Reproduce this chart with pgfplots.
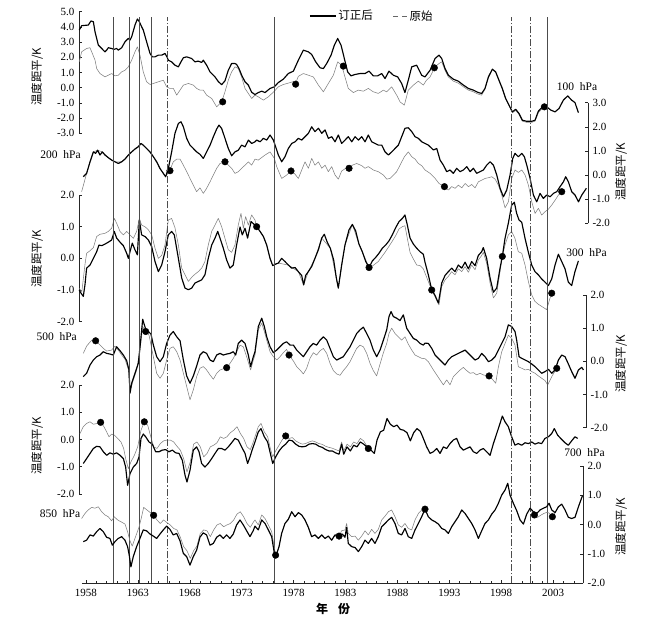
\documentclass[border=0pt]{standalone}
\usepackage{fontspec}
\setmainfont{Liberation Serif}
\newfontfamily\cjk{Noto Sans CJK SC}
\usepackage{pgfplots}
\pgfplotsset{compat=1.18}
\pgfplotsset{
  panel/.style={scale only axis, clip=false, xmin=1957.326, xmax=2006,
    anchor=south west, tick align=inside, major tick length=3pt,
    axis line style={black!85, line width=0.5pt},
    every tick/.style={black!85, line width=0.5pt},
    tick label style={font=\fontsize{11}{13}\selectfont},
    yticklabel style={/pgf/number format/.cd, fixed, fixed zerofill, precision=1, assume math mode=true},
    yticklabel shift=1pt},
  corr/.style={black, line width=1.15pt, line join=round, forget plot},
  orig/.style={black!50, line width=0.55pt, line join=round, forget plot},
  dots/.style={only marks, mark=*, mark size=3.3pt, black, forget plot},
  vsolid/.style={black!70, line width=0.6pt, forget plot},
  vdash/.style={black!70, line width=0.6pt, dash pattern=on 7pt off 2pt on 1.5pt off 2pt, forget plot},
}
\begin{document}
\begin{tikzpicture}
\path (0pt,0pt) rectangle (668pt,631pt);

% ---------------- 100 hPa ----------------
\begin{axis}[panel, hide x axis, at={(79pt,497.7pt)}, width=505.2pt, height=121.6pt,
  ymin=-3, ymax=5, ytick={-3,...,5}, axis y line*=left,
  legend columns=2,
  legend style={draw=none, fill=none, at={(0.58,0.965)}, anchor=center,
    font=\fontsize{11.5}{13}\selectfont,
    /tikz/every even column/.append style={column sep=18pt}}]
\addplot[orig] coordinates {(1957.35,1.70) (1957.58,2.36) (1958.06,2.58) (1958.38,2.63) (1958.55,2.36) (1958.87,1.81) (1959.03,1.26) (1959.35,0.93) (1959.83,0.71) (1960.15,0.82) (1960.47,0.93) (1960.79,0.78) (1961.11,0.82) (1961.44,1.04) (1961.76,1.15) (1962.08,1.37) (1962.40,1.81) (1962.72,2.36) (1962.95,2.69) (1963.20,2.14) (1963.52,1.04) (1963.84,0.39) (1964.17,0.21) (1964.49,0.28) (1964.97,0.39) (1965.45,0.49) (1965.77,0.06) (1966.09,-0.05) (1966.41,-0.05) (1966.74,-0.49) (1967.06,-0.16) (1967.38,0.17) (1967.86,0.28) (1968.34,0.17) (1968.66,-0.05) (1968.98,-0.16) (1969.30,-0.16) (1969.62,-0.49) (1970.11,-0.71) (1970.59,-1.26) (1971.07,-0.93) (1971.39,-0.27) (1971.71,0.49) (1972.03,1.04) (1972.35,1.37) (1972.67,1.26) (1972.99,0.71) (1973.32,-0.05) (1973.64,-0.38) (1973.96,-0.71) (1974.28,-0.49) (1974.60,-0.60) (1975.09,-0.82) (1975.57,-0.60) (1976.15,-0.23) (1976.53,0.06) (1977.01,0.21) (1977.49,0.30) (1977.98,0.40) (1978.20,0.30) (1978.46,0.75) (1978.94,0.93) (1979.42,0.82) (1979.90,0.71) (1980.39,0.17) (1980.87,-0.27) (1981.35,0.28) (1981.83,0.82) (1982.25,1.70) (1982.63,1.48) (1982.95,0.71) (1983.27,-0.05) (1983.76,-0.32) (1984.24,-0.16) (1984.72,-0.23) (1985.20,-0.05) (1985.68,-0.27) (1986.16,-0.38) (1986.65,-0.16) (1986.97,-0.27) (1987.45,0.06) (1987.93,-0.49) (1988.25,-0.93) (1988.67,-1.15) (1989.05,-0.16) (1989.54,0.17) (1990.02,0.43) (1990.50,0.17) (1990.80,0.49) (1991.15,0.71) (1991.63,1.37) (1992.01,1.59) (1992.27,1.70) (1992.59,1.15) (1992.91,0.71) (1993.39,0.43) (1993.87,0.30) (1994.36,0.06) (1994.84,-0.16) (1995.32,-0.27) (1995.80,-0.43) (1996.12,-0.49) (1996.44,-0.10) (1996.77,0.65) (1997.15,1.20) (1997.47,1.00) (1997.79,0.45) (1998.11,-0.10) (1998.43,-0.75) (1998.76,-1.20) (1999.08,-1.65) (1999.40,-1.50) (1999.72,-1.75) (2000.04,-2.20) (2000.46,-2.28) (2000.94,-2.28) (2001.26,-2.20) (2001.58,-1.65) (2001.97,-1.35) (2002.38,-1.26)};
\addplot[corr] coordinates {(1957.35,3.79) (1957.58,4.08) (1958.22,4.12) (1958.48,4.39) (1958.71,4.34) (1958.87,3.68) (1959.19,2.80) (1959.51,2.58) (1959.83,2.36) (1959.99,2.47) (1960.15,2.63) (1960.47,2.58) (1960.70,2.52) (1960.95,2.58) (1961.11,2.47) (1961.44,2.63) (1961.76,3.02) (1962.08,3.24) (1962.24,3.13) (1962.40,3.35) (1962.72,4.12) (1962.95,4.52) (1963.14,4.34) (1963.36,4.01) (1963.52,3.79) (1963.84,3.02) (1964.17,2.25) (1964.39,2.03) (1964.65,2.03) (1964.97,2.14) (1965.29,2.14) (1965.61,2.25) (1965.80,2.03) (1965.93,1.81) (1966.25,1.70) (1966.57,1.48) (1966.90,1.37) (1967.15,1.70) (1967.38,1.97) (1967.70,2.03) (1968.18,1.92) (1968.50,1.70) (1968.82,1.75) (1969.14,1.66) (1969.30,1.81) (1969.62,1.48) (1969.95,1.04) (1970.43,0.71) (1970.75,0.40) (1971.07,0.20) (1971.39,0.45) (1971.71,1.15) (1972.03,1.59) (1972.35,1.59) (1972.51,1.53) (1972.74,1.26) (1973.00,0.82) (1973.32,0.39) (1973.64,0.17) (1973.96,-0.30) (1974.28,-0.45) (1974.60,-0.32) (1974.93,-0.23) (1975.25,-0.32) (1975.73,-0.05) (1976.15,0.06) (1976.53,0.34) (1977.01,0.56) (1977.49,0.93) (1977.98,1.09) (1978.46,1.81) (1978.94,2.47) (1979.42,2.36) (1979.74,2.19) (1980.13,1.70) (1980.55,1.31) (1980.87,1.26) (1981.19,1.59) (1981.61,2.14) (1981.93,2.80) (1982.25,3.24) (1982.57,2.80) (1982.89,1.92) (1983.21,1.04) (1983.53,0.78) (1983.92,0.87) (1984.40,0.93) (1984.88,0.93) (1985.27,1.09) (1985.68,0.78) (1986.10,0.78) (1986.49,0.93) (1986.81,0.60) (1987.19,1.09) (1987.61,0.82) (1988.03,0.71) (1988.41,0.28) (1988.73,-0.32) (1989.05,0.49) (1989.38,1.37) (1989.86,1.48) (1990.34,0.82) (1990.66,0.71) (1991.15,1.15) (1991.63,1.92) (1992.01,2.14) (1992.27,1.92) (1992.59,1.26) (1992.91,0.82) (1993.39,0.56) (1993.87,0.43) (1994.36,0.17) (1994.84,-0.05) (1995.32,-0.16) (1995.80,-0.32) (1996.12,-0.38) (1996.44,-0.05) (1996.77,0.71) (1997.15,1.22) (1997.47,1.04) (1997.79,0.49) (1998.11,-0.05) (1998.43,-0.71) (1998.76,-1.15) (1999.08,-1.59) (1999.40,-1.42) (1999.72,-1.70) (2000.04,-2.14) (2000.46,-2.21) (2000.94,-2.21) (2001.26,-2.14) (2001.58,-1.55) (2001.97,-1.26) (2002.38,-1.26) (2002.80,-1.48) (2003.19,-1.59) (2003.57,-1.37) (2003.99,-0.82) (2004.41,-0.54) (2004.79,-0.82) (2005.11,-0.98) (2005.44,-1.64)};
\addplot[dots] coordinates {(1971.17,-0.93) (1978.20,0.23) (1982.79,1.42) (1991.56,1.31) (2002.16,-1.26)};
\addlegendimage{legend image code/.code={\draw[black, line width=1.15pt] (0pt,0pt) -- (26pt,0pt);}}
\addlegendentry{\cjk 订正后}
\addlegendimage{legend image code/.code={\draw[black!60, line width=0.7pt, dash pattern=on 5pt off 4pt] (0pt,0pt) -- (14pt,0pt);}}
\addlegendentry{\cjk 原始}
\end{axis}

% ---------------- 200 hPa ----------------
\begin{axis}[panel, hide x axis, at={(79pt,407.7pt)}, xmax=2006.36, width=509.0pt, height=120.6pt,
  ymin=-2, ymax=3, ytick={-2,...,3}, axis y line*=right]
\addplot[orig] coordinates {(1957.58,-0.69) (1957.84,-0.28) (1958.06,0.07) (1958.39,0.55) (1958.71,0.96) (1959.12,1.03) (1959.57,0.96) (1960.15,0.72) (1960.79,0.55) (1961.44,0.55) (1962.08,0.83) (1962.72,1.08) (1963.30,1.31) (1963.84,1.10) (1964.49,0.76) (1965.13,0.27) (1965.67,-0.07) (1966.09,0.21) (1966.41,0.55) (1966.74,0.66) (1967.06,0.66) (1967.38,0.41) (1967.70,0.14) (1968.02,-0.14) (1968.34,-0.42) (1968.66,-0.69) (1968.98,-0.53) (1969.30,-0.76) (1969.62,-0.55) (1969.95,-0.28) (1970.27,0.00) (1970.59,0.28) (1970.91,0.48) (1971.39,0.55) (1971.71,0.41) (1972.03,0.28) (1972.35,0.07) (1972.67,0.14) (1972.99,0.28) (1973.32,0.41) (1973.64,0.55) (1973.96,0.41) (1974.28,0.66) (1974.60,0.62) (1975.25,0.83) (1975.73,0.96) (1976.15,0.69) (1976.37,0.35) (1976.85,-0.14) (1977.33,0.00) (1977.75,0.17) (1978.07,0.07) (1978.46,-0.14) (1978.78,0.21) (1979.10,0.55) (1979.42,0.28) (1979.74,0.69) (1980.06,0.41) (1980.39,0.55) (1980.71,0.28) (1981.03,0.41) (1981.35,0.14) (1981.67,0.35) (1981.99,0.00) (1982.31,-0.17) (1982.63,0.17) (1983.02,0.28) (1983.34,0.28) (1983.66,0.41) (1984.08,0.48) (1984.56,0.39) (1984.88,0.28) (1985.20,0.35) (1985.68,0.21) (1986.16,0.14) (1986.65,0.00) (1986.97,-0.17) (1987.29,-0.14) (1987.61,0.00) (1987.93,0.14) (1988.25,0.41) (1988.67,0.76) (1989.05,0.96) (1989.38,0.76) (1989.70,0.66) (1990.02,0.48) (1990.34,0.39) (1990.66,0.21) (1991.15,0.07) (1991.63,-0.14) (1992.01,-0.35) (1992.53,-0.48) (1992.91,-0.62) (1993.23,-0.48) (1993.55,-0.55) (1993.87,-0.42) (1994.20,-0.53) (1994.52,-0.35) (1994.84,-0.48) (1995.16,-0.39) (1995.48,-0.53) (1995.80,-0.28) (1996.12,-0.21) (1996.44,-0.14) (1996.77,-0.11) (1997.09,-0.07) (1997.41,-0.17) (1997.73,-0.42) (1998.05,-0.83) (1998.37,-1.36) (1998.69,-1.11) (1999.01,-0.14) (1999.33,0.21) (1999.65,0.11) (1999.98,0.21) (2000.30,0.00) (2000.62,-0.42) (2000.94,-1.11) (2001.26,-1.59) (2001.58,-1.38) (2001.90,-1.66) (2002.22,-1.52) (2002.55,-1.41) (2002.87,-1.24) (2003.19,-1.04) (2003.51,-0.83) (2003.83,-0.69)};
\addplot[corr] coordinates {(1957.74,-0.07) (1958.06,0.07) (1958.39,0.55) (1958.71,0.96) (1958.93,0.90) (1959.12,1.03) (1959.35,0.83) (1959.57,0.96) (1959.83,0.83) (1960.15,0.72) (1960.47,0.62) (1960.79,0.55) (1961.11,0.48) (1961.44,0.55) (1961.76,0.66) (1962.08,0.83) (1962.40,0.96) (1962.72,1.08) (1963.04,1.17) (1963.30,1.31) (1963.52,1.24) (1963.84,1.10) (1964.17,0.96) (1964.49,0.76) (1964.81,0.55) (1965.13,0.27) (1965.45,0.07) (1965.67,-0.07) (1965.93,0.27) (1966.25,0.96) (1966.57,1.73) (1966.90,2.14) (1967.15,2.21) (1967.38,2.00) (1967.70,1.52) (1968.02,1.24) (1968.34,1.10) (1968.66,0.96) (1968.98,0.86) (1969.30,0.69) (1969.62,0.96) (1969.95,1.24) (1970.27,1.59) (1970.59,1.91) (1970.81,2.07) (1971.07,1.93) (1971.39,1.52) (1971.71,1.10) (1972.03,0.80) (1972.35,0.96) (1972.67,1.03) (1972.99,1.24) (1973.32,1.17) (1973.64,1.45) (1973.96,1.31) (1974.28,1.38) (1974.44,1.45) (1974.77,1.38) (1975.09,1.52) (1975.41,1.45) (1975.73,1.66) (1976.05,1.45) (1976.27,1.17) (1976.53,0.83) (1976.85,0.55) (1977.17,0.76) (1977.49,1.10) (1977.82,1.31) (1978.14,1.38) (1978.46,1.52) (1978.78,1.45) (1979.10,1.59) (1979.42,1.73) (1979.74,2.00) (1980.06,1.80) (1980.39,1.94) (1980.71,1.73) (1981.03,1.87) (1981.35,1.52) (1981.67,1.59) (1981.99,1.38) (1982.31,1.66) (1982.63,1.31) (1982.95,1.45) (1983.27,1.59) (1983.60,1.38) (1983.92,1.59) (1984.24,1.45) (1984.56,1.59) (1984.88,1.38) (1985.20,1.66) (1985.52,1.38) (1985.84,1.31) (1986.16,1.24) (1986.49,1.24) (1986.81,0.96) (1987.13,0.83) (1987.45,0.96) (1987.77,1.10) (1988.09,1.24) (1988.41,1.59) (1988.73,1.94) (1989.05,1.96) (1989.38,1.80) (1989.70,1.59) (1990.02,1.52) (1990.34,1.38) (1990.98,1.24) (1991.47,1.04) (1991.79,1.10) (1992.11,0.62) (1992.43,0.41) (1992.75,0.14) (1993.07,0.21) (1993.39,0.07) (1993.71,0.28) (1994.04,0.14) (1994.36,0.21) (1994.68,0.35) (1995.00,0.14) (1995.32,0.28) (1995.64,0.07) (1995.96,0.14) (1996.28,0.21) (1996.60,0.41) (1996.93,0.55) (1997.25,0.41) (1997.57,0.00) (1997.89,-0.55) (1998.21,-0.90) (1998.53,-0.62) (1998.85,0.00) (1999.11,0.69) (1999.33,0.90) (1999.65,0.76) (1999.98,0.90) (2000.23,0.76) (2000.46,0.41) (2000.78,-0.14) (2001.10,-0.83) (2001.42,-1.11) (2001.74,-0.76) (2002.06,-0.97) (2002.38,-0.83) (2002.71,-0.90) (2003.03,-0.76) (2003.35,-0.69) (2003.67,-0.48) (2003.99,-0.28) (2004.21,-0.07) (2004.47,-0.28) (2004.79,-0.69) (2005.11,-0.83) (2005.44,-1.11) (2005.76,-0.83) (2006.20,-0.55)};
\addplot[dots] coordinates {(1966.09,0.18) (1971.39,0.55) (1977.75,0.17) (1983.34,0.28) (1992.53,-0.48) (2003.83,-0.69)};
\end{axis}

% ---------------- 300 hPa ----------------
\begin{axis}[panel, hide x axis, at={(79pt,309.3pt)}, width=505.2pt, height=126.7pt,
  ymin=-2, ymax=2, ytick={-2,...,2}, axis y line*=left]
\addplot[orig] coordinates {(1957.35,-0.95) (1957.60,-1.05) (1957.90,-0.20) (1958.06,0.16) (1958.39,0.24) (1958.71,0.34) (1959.03,0.69) (1959.35,0.76) (1959.83,0.79) (1960.15,0.85) (1960.47,0.95) (1960.73,1.26) (1960.95,1.11) (1961.28,0.85) (1961.60,0.74) (1961.92,0.85) (1962.24,0.74) (1962.56,0.63) (1962.88,0.85) (1963.14,1.26) (1963.36,1.05) (1963.68,1.00) (1964.01,0.90) (1964.33,0.74) (1964.65,0.32) (1964.97,0.00) (1965.29,0.09) (1965.61,0.42) (1965.93,1.21) (1966.25,1.26) (1966.57,0.97) (1966.90,0.42) (1967.22,-0.31) (1967.54,-0.52) (1967.86,-0.73) (1968.18,-0.60) (1968.50,-0.50) (1968.82,-0.42) (1969.14,-0.31) (1969.46,-0.10) (1969.78,0.42) (1970.11,0.85) (1970.43,1.05) (1970.75,1.26) (1971.07,1.00) (1971.39,0.63) (1971.71,0.27) (1972.03,0.19) (1972.35,0.42) (1972.67,1.05) (1972.93,1.42) (1973.16,0.95) (1973.38,1.32) (1973.64,1.05) (1973.96,1.37) (1974.28,1.21) (1974.44,1.00) (1974.77,0.85) (1975.09,0.69) (1975.41,0.42) (1975.73,0.00) (1975.99,-0.23) (1976.53,-0.15) (1977.49,-0.21) (1978.46,-0.42) (1978.97,-0.84) (1979.42,-0.42) (1980.06,0.00) (1980.71,0.64) (1981.54,0.32) (1982.31,-0.94) (1982.95,0.42) (1983.66,1.07) (1984.30,0.45) (1985.27,-0.29) (1985.52,-0.26) (1986.16,-0.10) (1986.81,0.19) (1987.45,0.51) (1987.84,0.72) (1988.16,0.93) (1988.48,1.00) (1988.73,1.03) (1988.96,0.63) (1989.22,0.19) (1989.54,-0.02) (1989.86,-0.21) (1990.18,-0.23) (1990.50,-0.33) (1990.98,-0.73) (1991.31,-1.00) (1991.69,-1.26) (1992.01,-1.47) (1992.27,-0.89) (1992.59,-0.68) (1992.91,-0.57) (1993.23,-0.42) (1993.55,-0.52) (1993.87,-0.33) (1994.20,-0.42) (1994.52,-0.26) (1994.84,-0.44) (1995.16,-0.21) (1995.48,-0.36) (1995.80,-0.05) (1996.12,0.09) (1996.28,0.19) (1996.60,-0.15) (1996.93,-0.78) (1997.25,-1.25) (1997.57,-1.10) (1997.89,-0.42) (1998.11,0.06) (1998.37,0.42) (1998.69,0.74) (1999.01,0.85) (1999.33,0.63) (1999.65,0.21) (1999.98,0.16) (2000.30,-0.21) (2000.62,-0.73) (2000.94,-1.15) (2001.26,-1.36) (2001.58,-1.45) (2002.06,-1.55) (2002.38,-1.62) (2002.71,-1.25) (2002.87,-1.10)};
\addplot[corr] coordinates {(1957.35,-1.00) (1957.52,-1.10) (1957.74,-1.20) (1957.90,-0.84) (1958.06,-0.31) (1958.39,-0.21) (1958.71,0.00) (1959.03,0.21) (1959.25,0.42) (1959.51,0.40) (1959.83,0.45) (1960.15,0.51) (1960.47,0.58) (1960.73,0.85) (1960.95,0.64) (1961.28,0.51) (1961.60,0.40) (1961.92,0.16) (1962.08,0.00) (1962.24,0.21) (1962.46,0.48) (1962.72,0.27) (1962.95,0.11) (1963.14,1.21) (1963.36,0.74) (1963.68,0.69) (1964.01,0.58) (1964.33,0.37) (1964.65,-0.10) (1964.97,-0.42) (1965.29,-0.21) (1965.61,0.21) (1965.93,0.74) (1966.25,0.85) (1966.51,0.74) (1966.90,0.00) (1967.22,-0.62) (1967.54,-0.94) (1967.86,-0.99) (1968.18,-0.94) (1968.50,-0.78) (1968.82,-0.73) (1969.14,-0.68) (1969.46,-0.52) (1969.78,0.00) (1970.11,0.42) (1970.43,0.64) (1970.69,0.85) (1970.91,0.64) (1971.23,0.32) (1971.55,-0.05) (1971.87,-0.31) (1972.19,-0.21) (1972.51,0.42) (1972.84,0.99) (1973.06,0.74) (1973.32,0.95) (1973.57,0.64) (1973.90,1.16) (1974.28,1.05) (1974.44,1.00) (1974.77,0.85) (1975.09,0.69) (1975.41,0.42) (1975.73,0.00) (1975.99,-0.23) (1976.27,-0.18) (1976.53,-0.15) (1976.85,0.00) (1977.17,-0.10) (1977.49,-0.21) (1977.82,-0.31) (1978.14,-0.29) (1978.46,-0.42) (1978.78,-0.54) (1978.97,-0.84) (1979.16,-0.54) (1979.42,-0.42) (1979.74,-0.26) (1980.06,0.00) (1980.39,0.27) (1980.71,0.64) (1980.96,0.76) (1981.22,0.53) (1981.54,0.32) (1981.86,-0.05) (1982.12,-0.62) (1982.31,-0.94) (1982.63,-0.21) (1982.95,0.42) (1983.34,0.90) (1983.66,1.07) (1983.98,0.87) (1984.30,0.45) (1984.62,0.21) (1984.95,-0.10) (1985.27,-0.29) (1985.59,-0.08) (1985.91,0.03) (1986.23,0.16) (1986.55,0.32) (1986.87,0.42) (1987.19,0.55) (1987.51,0.74) (1987.84,0.97) (1988.16,1.16) (1988.48,1.26) (1988.73,1.37) (1988.96,1.05) (1989.22,0.64) (1989.54,0.45) (1989.86,0.32) (1990.18,0.21) (1990.50,0.13) (1990.66,-0.12) (1990.98,-0.52) (1991.31,-0.99) (1991.63,-1.17) (1991.95,-1.41) (1992.27,-0.78) (1992.59,-0.54) (1992.91,-0.42) (1993.23,-0.31) (1993.55,-0.42) (1993.87,-0.21) (1994.20,-0.31) (1994.52,-0.12) (1994.84,-0.33) (1995.16,-0.10) (1995.48,-0.23) (1995.80,0.09) (1996.12,0.21) (1996.28,0.34) (1996.60,0.00) (1996.93,-0.62) (1997.25,-1.07) (1997.57,-0.94) (1997.89,-0.31) (1998.11,0.06) (1998.37,0.63) (1998.69,1.11) (1999.01,1.68) (1999.27,1.77) (1999.49,1.42) (1999.72,1.21) (1999.98,1.14) (2000.30,0.63) (2000.62,0.19) (2000.94,-0.21) (2001.26,-0.42) (2001.58,-0.52) (2001.90,-0.65) (2002.22,-0.75) (2002.55,-0.86) (2002.87,-0.65) (2003.19,-0.21) (2003.51,0.13) (2003.83,-0.10) (2004.15,-0.33) (2004.47,-0.75) (2004.79,-0.86) (2005.11,-0.42) (2005.44,-0.08)};
\addplot[dots] coordinates {(1974.44,1.00) (1985.27,-0.29) (1991.31,-1.00) (1998.11,0.06) (2002.87,-1.10)};
\end{axis}

% ---------------- 500 hPa ----------------
\begin{axis}[panel, hide x axis, at={(79pt,203.3pt)}, xmax=2006.17, width=507.0pt, height=132.7pt,
  ymin=-2, ymax=2, ytick={-2,...,2}, axis y line*=right]
\addplot[orig] coordinates {(1957.74,0.24) (1958.06,0.46) (1958.55,0.64) (1958.93,0.62) (1959.35,0.49) (1959.67,0.39) (1959.99,0.31) (1960.47,0.34) (1960.79,0.46) (1961.11,0.34) (1961.44,0.19) (1961.76,0.06) (1962.08,-0.24) (1962.24,-0.91) (1962.56,-0.56) (1962.88,-0.26) (1963.20,0.34) (1963.46,1.05) (1963.75,0.90) (1964.07,0.79) (1964.49,0.14) (1964.81,-0.36) (1965.13,-0.51) (1965.45,-0.36) (1965.77,0.04) (1966.09,0.39) (1966.41,0.44) (1966.74,0.29) (1967.06,0.04) (1967.38,-0.36) (1967.70,-0.76) (1968.02,-1.16) (1968.34,-0.86) (1968.66,-0.46) (1968.98,-0.21) (1969.30,-0.16) (1969.62,-0.26) (1969.95,-0.41) (1970.27,-0.54) (1970.59,-0.36) (1970.91,-0.26) (1971.55,-0.19) (1971.87,-0.06) (1972.19,0.09) (1972.51,0.29) (1972.84,0.49) (1973.16,0.44) (1973.48,0.14) (1973.86,-0.26) (1974.12,0.04) (1974.28,0.19) (1974.60,0.95) (1974.93,1.15) (1975.18,0.90) (1975.41,0.64) (1975.73,0.29) (1976.05,0.14) (1976.37,0.04) (1976.69,0.14) (1977.01,0.26) (1977.33,0.36) (1977.56,0.19) (1977.98,0.01) (1978.30,-0.16) (1978.62,-0.26) (1978.94,-0.38) (1979.26,-0.21) (1979.58,0.09) (1979.90,0.26) (1980.22,0.19) (1980.55,0.32) (1980.87,0.39) (1981.19,0.24) (1981.51,-0.06) (1981.83,-0.28) (1982.15,-0.38) (1982.47,-0.42) (1982.79,-0.28) (1983.11,-0.16) (1983.44,-0.01) (1983.76,0.19) (1984.08,0.39) (1984.40,0.49) (1984.72,0.44) (1985.04,0.24) (1985.36,-0.06) (1985.68,-0.28) (1986.00,-0.44) (1986.33,-0.08) (1986.65,0.26) (1986.97,0.54) (1987.19,0.84) (1987.45,1.00) (1987.77,0.84) (1988.09,0.74) (1988.41,0.64) (1988.73,0.74) (1989.05,0.52) (1989.38,0.34) (1989.70,0.19) (1990.02,0.14) (1990.34,0.09) (1990.66,0.08) (1990.98,-0.01) (1991.47,-0.26) (1991.79,-0.41) (1992.11,-0.56) (1992.43,-0.71) (1992.75,-0.56) (1993.07,-0.71) (1993.39,-0.46) (1993.71,-0.36) (1994.04,-0.26) (1994.36,-0.18) (1994.68,-0.28) (1995.00,-0.36) (1995.32,-0.34) (1995.64,-0.41) (1995.96,-0.36) (1996.28,-0.41) (1996.83,-0.44) (1997.15,-0.54) (1997.47,-0.66) (1997.73,-0.16) (1998.05,0.29) (1998.37,0.54) (1998.69,0.79) (1999.01,0.69) (1999.33,0.49) (1999.65,-0.16) (1999.98,-0.21) (2000.30,-0.26) (2000.62,-0.24) (2000.94,-0.31) (2001.26,-0.36) (2001.58,-0.44) (2001.90,-0.51) (2002.22,-0.58) (2002.48,-0.71) (2002.87,-0.46) (2003.35,-0.21)};
\addplot[corr] coordinates {(1957.74,-0.46) (1958.06,-0.36) (1958.39,-0.11) (1958.71,0.04) (1959.03,0.14) (1959.35,0.19) (1959.67,0.29) (1959.99,0.24) (1960.31,0.22) (1960.63,0.19) (1960.95,0.44) (1961.28,0.32) (1961.60,0.19) (1961.92,0.02) (1962.14,-0.26) (1962.24,-0.96) (1962.40,-0.66) (1962.72,-0.36) (1963.04,-0.06) (1963.27,0.64) (1963.46,1.27) (1963.62,1.10) (1963.78,0.95) (1964.01,0.90) (1964.26,0.82) (1964.49,0.49) (1964.81,0.14) (1965.13,-0.01) (1965.45,0.14) (1965.77,0.54) (1966.09,0.79) (1966.41,0.90) (1966.74,0.74) (1967.06,0.62) (1967.38,0.04) (1967.70,-0.44) (1968.02,-0.66) (1968.34,-0.44) (1968.66,-0.14) (1968.98,0.19) (1969.30,0.29) (1969.62,0.24) (1969.95,0.04) (1970.27,-0.01) (1970.59,0.19) (1970.91,0.24) (1971.23,0.19) (1971.55,0.22) (1971.87,0.24) (1972.19,0.29) (1972.42,0.19) (1972.67,0.54) (1972.99,0.64) (1973.32,0.54) (1973.64,0.19) (1973.86,-0.16) (1974.12,0.14) (1974.28,0.29) (1974.60,1.05) (1974.93,1.30) (1975.18,1.05) (1975.41,0.74) (1975.73,0.44) (1976.05,0.26) (1976.37,0.34) (1976.69,0.44) (1977.01,0.54) (1977.33,0.59) (1977.66,0.49) (1977.98,0.49) (1978.30,0.34) (1978.62,0.24) (1978.94,0.14) (1979.26,0.29) (1979.58,0.44) (1979.90,0.54) (1980.22,0.49) (1980.55,0.64) (1980.87,0.74) (1981.19,0.64) (1981.51,0.39) (1981.83,0.14) (1982.15,0.04) (1982.47,0.09) (1982.79,0.14) (1983.11,0.29) (1983.44,0.44) (1983.76,0.64) (1984.08,0.84) (1984.40,0.95) (1984.72,1.03) (1985.04,0.84) (1985.36,0.64) (1985.68,0.34) (1986.00,0.14) (1986.33,0.34) (1986.65,0.64) (1986.97,0.95) (1987.19,1.35) (1987.39,1.50) (1987.61,1.35) (1987.93,1.30) (1988.25,1.23) (1988.57,1.40) (1988.89,1.00) (1989.22,0.84) (1989.54,0.69) (1989.86,0.64) (1990.18,0.54) (1990.50,0.49) (1990.66,0.55) (1990.98,0.54) (1991.31,0.39) (1991.63,0.19) (1991.95,0.09) (1992.27,-0.01) (1992.59,-0.11) (1992.91,0.04) (1993.23,0.14) (1993.55,0.19) (1993.87,0.24) (1994.20,0.29) (1994.52,0.34) (1994.84,0.24) (1995.16,0.14) (1995.48,0.04) (1995.80,0.09) (1996.12,0.24) (1996.44,0.14) (1996.77,-0.01) (1997.09,0.04) (1997.41,0.14) (1997.73,0.34) (1998.05,0.54) (1998.37,0.74) (1998.69,1.10) (1999.01,1.05) (1999.33,0.90) (1999.49,0.64) (1999.72,0.14) (1999.98,0.09) (2000.30,0.04) (2000.62,-0.01) (2000.94,-0.08) (2001.26,-0.16) (2001.58,-0.26) (2001.90,-0.36) (2002.22,-0.31) (2002.55,-0.24) (2002.87,-0.36) (2003.19,-0.26) (2003.51,0.04) (2003.83,0.19) (2004.15,0.14) (2004.47,-0.08) (2004.79,-0.31) (2005.11,-0.51) (2005.44,-0.26) (2005.76,-0.18) (2005.92,-0.26)};
\addplot[dots] coordinates {(1958.93,0.62) (1963.75,0.90) (1971.55,-0.19) (1977.56,0.19) (1996.83,-0.44) (2003.35,-0.21)};
\end{axis}

% ---------------- 700 hPa ----------------
\begin{axis}[panel, hide x axis, at={(79pt,137pt)}, width=505.2pt, height=109pt,
  ymin=-2, ymax=2, ytick={-2,...,2}, axis y line*=left]
\addplot[orig] coordinates {(1957.42,0.22) (1957.74,0.47) (1958.06,0.59) (1958.39,0.65) (1958.71,0.56) (1959.09,0.59) (1959.41,0.63) (1959.73,0.47) (1959.99,0.28) (1960.21,0.10) (1960.47,0.20) (1960.73,0.16) (1961.05,0.04) (1961.37,-0.09) (1961.63,-0.33) (1961.82,-0.70) (1962.08,-1.07) (1962.33,-0.82) (1962.66,-0.58) (1962.98,-0.27) (1963.30,0.34) (1963.62,0.65) (1963.94,0.53) (1964.20,0.16) (1964.52,-0.27) (1964.84,-0.33) (1965.16,-0.15) (1965.48,-0.05) (1965.80,-0.02) (1966.12,-0.02) (1966.45,-0.09) (1966.77,-0.25) (1967.09,-0.39) (1967.41,-0.70) (1967.73,-1.19) (1968.05,-0.82) (1968.37,-0.17) (1968.69,-0.09) (1969.01,-0.27) (1969.34,-0.64) (1969.66,-0.51) (1969.98,-0.27) (1970.30,-0.21) (1970.62,-0.12) (1970.94,0.10) (1971.26,0.04) (1971.58,0.10) (1971.91,0.25) (1972.23,0.34) (1972.55,0.47) (1972.87,0.22) (1973.19,0.04) (1973.51,-0.27) (1973.83,-0.37) (1974.12,-0.09) (1974.28,0.10) (1974.60,0.47) (1974.86,0.59) (1975.18,0.28) (1975.50,0.10) (1975.76,-0.33) (1975.99,-0.64) (1976.27,-0.42) (1976.60,-0.21) (1976.92,0.00) (1977.24,0.13) (1977.56,0.04) (1977.88,0.07) (1978.20,-0.05) (1978.52,-0.12) (1978.84,-0.17) (1979.16,-0.15) (1979.49,-0.09) (1979.81,-0.05) (1980.13,-0.09) (1980.45,-0.15) (1980.77,-0.18) (1981.09,-0.25) (1981.41,-0.29) (1981.73,-0.32) (1982.05,-0.37) (1982.38,-0.42) (1982.63,-0.09) (1982.83,-0.42) (1983.15,-0.17) (1983.47,-0.27) (1983.79,-0.09) (1984.11,-0.15) (1984.43,0.04) (1984.75,-0.05) (1985.14,-0.29) (1985.20,-0.33)};
\addplot[corr] coordinates {(1957.74,-0.88) (1958.06,-0.70) (1958.39,-0.51) (1958.71,-0.33) (1959.03,-0.25) (1959.35,-0.27) (1959.67,-0.45) (1959.99,-0.58) (1960.31,-0.49) (1960.63,-0.54) (1960.95,-0.49) (1961.28,-0.58) (1961.60,-0.70) (1961.82,-1.01) (1962.01,-1.68) (1962.24,-1.25) (1962.56,-1.01) (1962.88,-0.88) (1963.11,-0.64) (1963.30,0.04) (1963.52,0.20) (1963.75,0.10) (1964.07,-0.09) (1964.39,-0.17) (1964.71,-0.45) (1965.03,-0.45) (1965.35,-0.39) (1965.67,-0.37) (1965.99,-0.45) (1966.32,-0.39) (1966.64,-0.49) (1966.96,-0.51) (1967.28,-0.76) (1967.54,-1.31) (1967.73,-1.56) (1968.02,-1.13) (1968.34,-0.39) (1968.66,-0.27) (1968.89,-0.45) (1969.14,-0.88) (1969.46,-1.01) (1969.78,-0.88) (1970.11,-0.70) (1970.43,-0.51) (1970.75,-0.33) (1971.07,-0.33) (1971.39,-0.39) (1971.71,-0.27) (1972.03,-0.12) (1972.35,0.04) (1972.67,-0.02) (1972.99,-0.27) (1973.32,-0.51) (1973.57,-0.88) (1973.80,-0.64) (1974.02,-0.37) (1974.28,-0.09) (1974.60,0.28) (1974.86,0.40) (1975.18,0.10) (1975.50,-0.09) (1975.76,-0.51) (1975.99,-0.88) (1976.27,-0.64) (1976.60,-0.42) (1976.92,-0.27) (1977.24,-0.17) (1977.56,-0.02) (1977.88,-0.05) (1978.20,-0.17) (1978.52,-0.25) (1978.84,-0.27) (1979.16,-0.25) (1979.49,-0.17) (1979.81,-0.15) (1980.13,-0.17) (1980.45,-0.25) (1980.77,-0.29) (1981.09,-0.37) (1981.41,-0.42) (1981.73,-0.42) (1982.05,-0.49) (1982.38,-0.54) (1982.63,-0.17) (1982.83,-0.54) (1983.15,-0.27) (1983.47,-0.42) (1983.79,-0.21) (1984.11,-0.27) (1984.43,-0.09) (1984.75,-0.17) (1985.14,-0.29) (1985.46,-0.39) (1985.78,-0.51) (1986.04,-0.02) (1986.36,0.28) (1986.68,0.34) (1987.00,0.77) (1987.32,0.56) (1987.64,0.47) (1987.96,0.53) (1988.28,0.37) (1988.60,0.34) (1988.93,0.25) (1989.25,-0.05) (1989.57,0.25) (1989.89,0.40) (1990.21,0.30) (1990.50,0.04) (1990.82,-0.27) (1991.15,-0.51) (1991.47,-0.45) (1991.79,-0.33) (1992.11,-0.51) (1992.43,-0.27) (1992.75,-0.33) (1993.07,-0.15) (1993.39,-0.02) (1993.71,0.04) (1994.04,-0.27) (1994.36,-0.39) (1994.68,-0.33) (1995.00,-0.27) (1995.32,-0.45) (1995.64,-0.51) (1995.96,-0.39) (1996.28,-0.33) (1996.60,-0.45) (1996.93,-0.58) (1997.25,-0.15) (1997.57,0.22) (1997.89,0.59) (1998.11,0.86) (1998.37,0.65) (1998.69,0.47) (1999.01,0.10) (1999.33,-0.21) (1999.65,-0.15) (1999.98,-0.21) (2000.30,-0.12) (2000.62,-0.15) (2000.94,-0.09) (2001.26,-0.17) (2001.58,-0.12) (2001.90,-0.15) (2002.22,0.04) (2002.55,0.10) (2002.87,0.22) (2003.12,0.40) (2003.44,0.16) (2003.83,0.00) (2004.15,-0.12) (2004.47,-0.21) (2004.79,-0.05) (2005.11,0.10) (2005.37,0.04)};
\addplot[dots] coordinates {(1959.41,0.63) (1963.62,0.65) (1977.24,0.13) (1985.20,-0.33)};
\end{axis}

% ---------------- 850 hPa ----------------
\begin{axis}[panel, at={(81.8pt,47.7pt)}, xmin=1957.6, xmax=2005.9, width=501.4pt, height=117.3pt,
  ymin=-2, ymax=2, ytick={-2,...,2}, axis y line*=right, axis x line*=bottom,
  xtick={1958,1963,1968,1973,1978,1983,1988,1993,1998,2003},
  xticklabels={1958,1963,1968,1973,1978,1983,1988,1993,1998,2003},
  minor xtick={1958,...,2005}, minor tick length=2pt, major tick length=3.5pt,
  xticklabel style={yshift=-2pt}]
\addplot[vsolid] coordinates {(1960.6,-2) (1960.6,17.3)};
\addplot[vsolid] coordinates {(1962.15,-2) (1962.15,17.3)};
\addplot[vsolid] coordinates {(1963.1,-2) (1963.1,17.3)};
\addplot[vsolid] coordinates {(1964.3,-2) (1964.3,17.3)};
\addplot[vdash] coordinates {(1965.85,-2) (1965.85,17.3)};
\addplot[vsolid] coordinates {(1976.1,-2) (1976.1,17.3)};
\addplot[vdash] coordinates {(1999.0,-2) (1999.0,17.3)};
\addplot[vdash] coordinates {(2000.85,-2) (2000.85,17.3)};
\addplot[vsolid] coordinates {(2002.4,-2) (2002.4,17.3)};
\addplot[orig] coordinates {(1957.58,0.21) (1957.90,0.38) (1958.22,0.50) (1958.55,0.59) (1958.87,0.56) (1959.19,0.61) (1959.51,0.44) (1959.83,0.33) (1960.15,0.27) (1960.47,0.13) (1960.73,0.27) (1961.05,0.16) (1961.37,0.10) (1961.76,0.02) (1962.01,-0.24) (1962.24,-0.55) (1962.46,-0.73) (1962.78,-0.41) (1963.11,-0.09) (1963.36,0.27) (1963.56,0.59) (1963.88,0.50) (1964.20,0.41) (1964.52,0.32) (1964.84,0.16) (1965.16,0.04) (1965.48,0.16) (1965.80,0.07) (1966.12,-0.01) (1966.45,-0.13) (1966.77,-0.18) (1967.09,-0.43) (1967.41,-0.75) (1967.73,-0.89) (1968.05,-1.15) (1968.37,-0.89) (1968.69,-0.73) (1969.01,-0.30) (1969.34,-0.18) (1969.66,-0.21) (1969.98,-0.41) (1970.30,-0.18) (1970.62,-0.01) (1970.94,0.04) (1971.26,-0.07) (1971.58,-0.01) (1971.91,0.04) (1972.23,0.16) (1972.55,0.36) (1972.87,0.44) (1973.19,0.27) (1973.51,0.04) (1973.83,-0.09) (1974.15,0.10) (1974.28,0.16) (1974.60,-0.01) (1974.93,0.33) (1975.25,0.21) (1975.57,-0.01) (1975.89,-0.24) (1976.08,-0.64) (1976.27,-1.04) (1976.60,-0.75) (1976.85,-0.30) (1977.17,0.04) (1977.49,0.18) (1977.82,0.44) (1978.14,0.27) (1978.46,0.41) (1978.78,0.33) (1979.10,0.16) (1979.42,-0.09) (1979.74,-0.41) (1980.06,-0.35) (1980.39,-0.47) (1980.71,-0.35) (1981.03,-0.47) (1981.35,-0.39) (1981.67,-0.53) (1981.99,-0.35) (1982.38,-0.39) (1982.63,-0.21) (1982.95,-0.18) (1983.11,0.04) (1983.27,-0.30) (1983.60,-0.41) (1983.92,-0.39) (1984.24,-0.53) (1984.56,-0.39) (1984.88,-0.21) (1985.20,-0.35) (1985.52,-0.16) (1985.84,-0.30) (1986.16,-0.16) (1986.49,0.16) (1986.81,0.29) (1987.13,0.44) (1987.45,0.50) (1987.77,0.27) (1988.09,-0.01) (1988.41,-0.09) (1988.73,0.04) (1989.05,-0.13) (1989.38,-0.18) (1989.70,0.16) (1990.02,0.38) (1990.34,0.50) (1990.66,0.55)};
\addplot[orig] coordinates {(2000.94,0.45) (2001.20,0.33) (2001.50,0.25) (2001.80,0.32) (2002.10,0.38) (2002.40,0.42) (2002.60,0.40) (2002.93,0.27) (2003.20,0.41)};
\addplot[corr] coordinates {(1957.74,-0.58) (1958.06,-0.53) (1958.39,-0.35) (1958.71,-0.39) (1959.03,-0.24) (1959.35,-0.13) (1959.67,-0.24) (1959.99,-0.43) (1960.31,-0.47) (1960.54,-0.70) (1960.79,-0.58) (1961.11,-0.47) (1961.44,-0.41) (1961.76,-0.53) (1962.01,-0.75) (1962.17,-1.04) (1962.33,-1.44) (1962.56,-1.09) (1962.88,-0.75) (1963.20,-0.47) (1963.52,-0.18) (1963.84,-0.21) (1964.17,-0.32) (1964.49,-0.39) (1964.81,-0.47) (1965.13,-0.32) (1965.45,-0.18) (1965.77,-0.05) (1966.09,-0.16) (1966.41,-0.35) (1966.74,-0.30) (1967.06,-0.55) (1967.38,-0.98) (1967.70,-1.09) (1968.02,-1.38) (1968.34,-1.09) (1968.66,-0.87) (1968.98,-0.43) (1969.30,-0.28) (1969.62,-0.35) (1969.95,-0.70) (1970.27,-0.64) (1970.59,-0.43) (1970.91,-0.35) (1971.23,-0.47) (1971.55,-0.35) (1971.87,-0.47) (1972.19,-0.32) (1972.51,-0.01) (1972.84,0.16) (1973.16,-0.01) (1973.48,-0.21) (1973.80,-0.41) (1974.12,-0.20) (1974.28,-0.05) (1974.60,-0.18) (1974.93,0.16) (1975.25,0.04) (1975.57,-0.18) (1975.89,-0.41) (1976.15,-0.98) (1976.37,-1.00) (1976.60,-0.75) (1976.85,-0.30) (1977.17,0.04) (1977.49,0.18) (1977.82,0.44) (1978.14,0.27) (1978.46,0.41) (1978.78,0.33) (1979.10,0.16) (1979.42,-0.09) (1979.74,-0.41) (1980.06,-0.35) (1980.39,-0.47) (1980.71,-0.35) (1981.03,-0.47) (1981.35,-0.39) (1981.67,-0.53) (1981.99,-0.35) (1982.38,-0.39) (1982.70,-0.32) (1982.95,-0.43) (1983.11,-0.09) (1983.27,-0.64) (1983.60,-0.75) (1983.92,-0.78) (1984.24,-0.92) (1984.56,-0.75) (1984.88,-0.53) (1985.20,-0.64) (1985.52,-0.47) (1985.84,-0.64) (1986.16,-0.41) (1986.49,-0.07) (1986.81,0.04) (1987.13,0.16) (1987.45,0.25) (1987.77,0.04) (1988.09,-0.30) (1988.41,-0.35) (1988.73,-0.13) (1989.05,-0.41) (1989.38,-0.47) (1989.70,-0.18) (1990.02,0.04) (1990.34,0.27) (1990.66,0.53) (1990.98,0.27) (1991.31,0.16) (1991.63,0.10) (1991.95,0.02) (1992.27,-0.13) (1992.59,-0.18) (1992.91,-0.30) (1993.23,-0.07) (1993.55,0.10) (1993.87,0.27) (1994.20,0.50) (1994.52,0.38) (1994.84,0.21) (1995.16,0.04) (1995.48,-0.18) (1995.80,-0.47) (1996.12,-0.21) (1996.44,0.04) (1996.77,0.16) (1997.09,0.36) (1997.41,0.50) (1997.73,0.73) (1998.05,1.01) (1998.37,1.18) (1998.63,1.41) (1998.85,1.01) (1999.17,0.73) (1999.49,0.48) (1999.82,0.16) (2000.14,0.02) (2000.46,0.36) (2000.78,0.56) (2001.10,0.44) (2001.42,0.38) (2001.74,0.50) (2002.06,0.56) (2002.38,0.61) (2002.61,0.73) (2002.87,0.50) (2003.19,0.41) (2003.51,0.61) (2003.83,0.70) (2004.15,0.50) (2004.47,0.25) (2004.79,0.21) (2005.11,0.25) (2005.44,0.61) (2005.82,0.98)};
\addplot[dots] coordinates {(1964.52,0.32) (1976.27,-1.04) (1982.38,-0.39) (1990.66,0.53) (2001.20,0.33) (2002.93,0.27)};
\end{axis}

% ---------------- labels ----------------
\begin{scope}[every node/.style={font=\fontsize{11.5}{13}\selectfont}]
\node at (577pt,544pt) {100\ \ hPa};
\node at (60.5pt,476pt) {200\ \ hPa};
\node at (586.5pt,378pt) {300\ \ hPa};
\node at (56.7pt,294pt) {500\ \ hPa};
\node at (584.5pt,178pt) {700\ \ hPa};
\node at (60pt,117pt) {850\ \ hPa};
\end{scope}
\begin{scope}[every node/.style={font=\cjk\fontsize{11.5}{13}\selectfont, rotate=90}]
\node at (37pt,554pt) {温度距平/K};
\node at (37pt,372pt) {温度距平/K};
\node at (37pt,185pt) {温度距平/K};
\node at (621pt,459pt) {温度距平/K};
\node at (621pt,267pt) {温度距平/K};
\node at (621pt,104pt) {温度距平/K};
\end{scope}
\node[font=\cjk\bfseries\fontsize{12}{14}\selectfont] at (333pt,22pt) {年\hspace{10pt}份};
\end{tikzpicture}
\end{document}
